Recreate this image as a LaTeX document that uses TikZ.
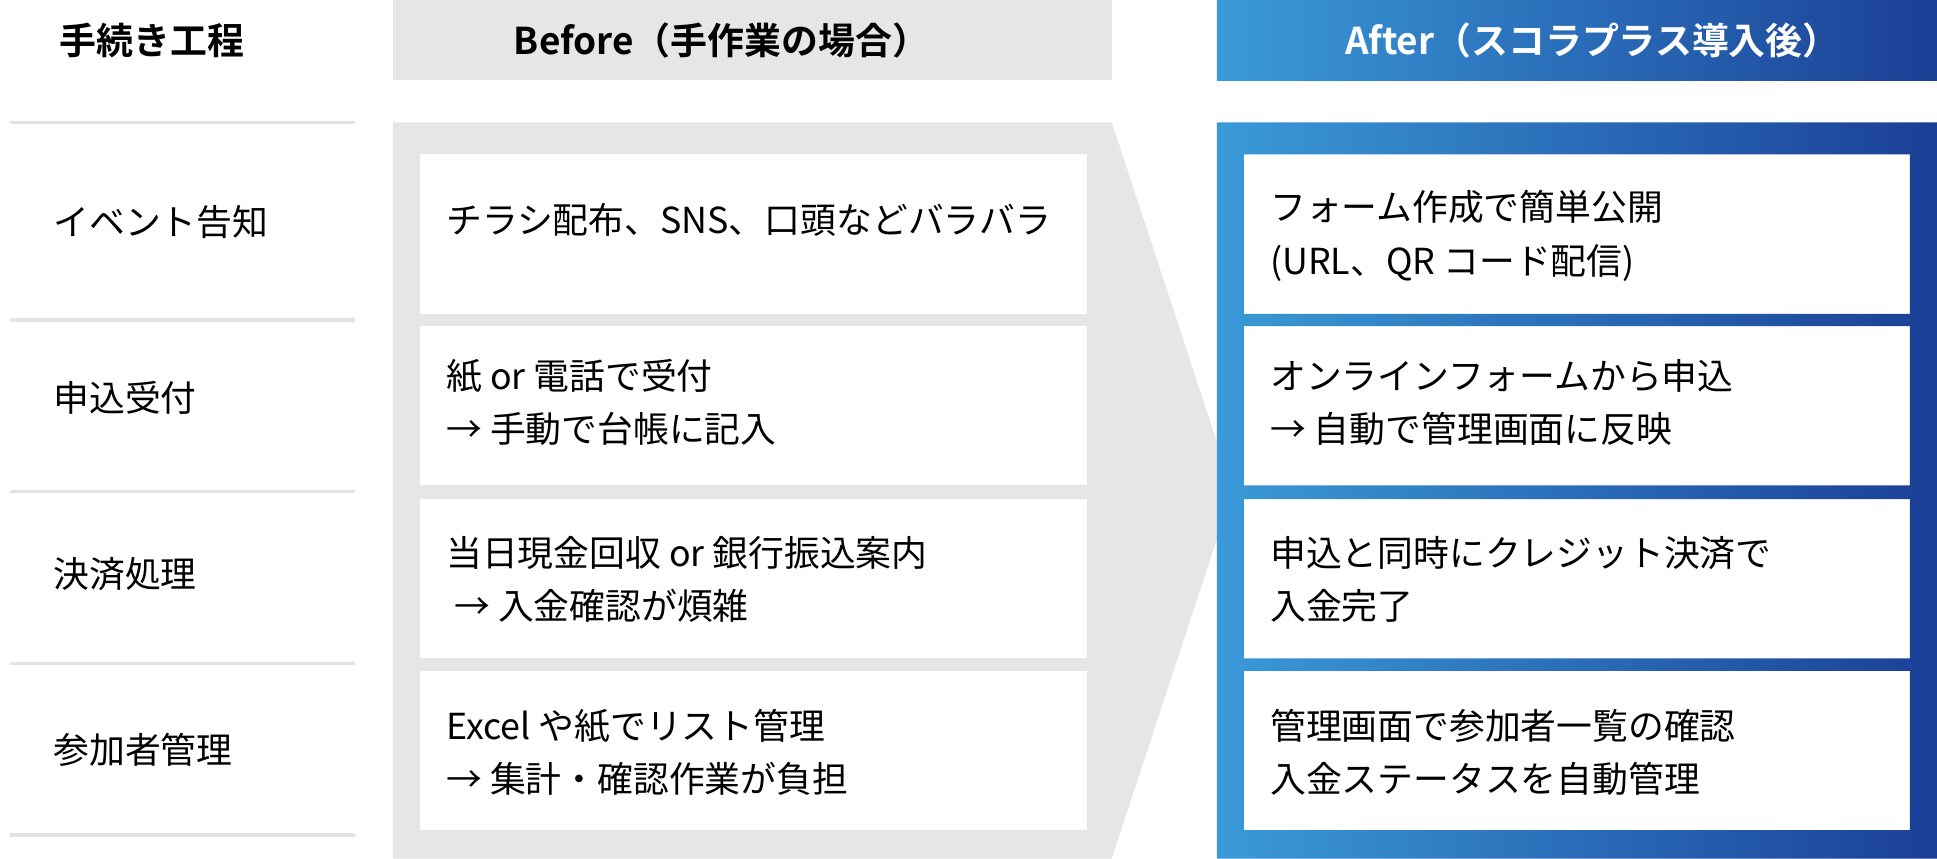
\documentclass[tikz,border=0pt]{standalone}
\usepackage{fontspec}
\setmainfont{Noto Sans CJK JP}[BoldFont={Noto Sans CJK JP Bold}]
\usepackage{tikz}
\definecolor{bggray}{HTML}{E6E6E6}
\definecolor{linegray}{HTML}{E3E3E3}
\definecolor{blueL}{HTML}{3A9AD9}
\definecolor{blueR}{HTML}{1A3F96}
\tikzset{
  stepname/.style={anchor=west, font=\fontsize{16.5}{20}\selectfont},
  cell/.style={anchor=west, align=left, font=\fontsize{16.5}{24.5}\selectfont},
  head/.style={font=\bfseries\fontsize{17}{20}\selectfont},
}
\begin{document}
\begin{tikzpicture}[x=0.02cm, y=-0.02cm]
			\useasboundingbox (0,0) rectangle (1568,695);
			% left column
			\node[head] (steptitle) at (123,33) {手続き工程};
			\foreach \y in {99,259,398,537,676} {
				\draw[linegray, line width=1.5pt] (8,\y) -- (287,\y);
			}
			\node[stepname] (s1) at (37,180) {イベント告知};
			\node[stepname] (s2) at (37,322) {申込受付};
			\node[stepname] (s3) at (37,465) {決済処理};
			\node[stepname] (s4) at (37,607) {参加者管理};
			% before
			\fill[bggray] (318,0) rectangle (900,65);
			\node[head] (beforetitle) at (584,33) {Before（手作業の場合）};
			\fill[bggray] (318,99) -- (900,99) -- (998,397) -- (900,695) -- (318,695) -- cycle;
			\foreach \a/\b in {125/254,264/393,404/533,543/672} {
				\fill[white] (340,\a) rectangle (880,\b);
				\fill[white] (1007,\a) rectangle (1546,\b);
			}
			\node[cell] (b1) at (355,178) {チラシ配布、SNS、口頭などバラバラ};
			\node[cell] (b2) at (355,326) {紙 or 電話で受付\\→ 手動で台帳に記入};
			\node[cell] (b3) at (355,469) {当日現金回収 or 銀行振込案内\\\ → 入金確認が煩雑};
			\node[cell] (b4) at (355,609) {Excel や紙でリスト管理\\→ 集計・確認作業が負担};
			% after
			\shade[left color=blueL, right color=blueR] (985,0) rectangle (1568,65);
			\node[head, text=white] (aftertitle) at (1289,33) {After（スコラプラス導入後）};
			\shade[left color=blueL, right color=blueR, even odd rule]
				(985,99) rectangle (1568,695)
				(1007,125) rectangle (1546,254) (1007,264) rectangle (1546,393)
				(1007,404) rectangle (1546,533) (1007,543) rectangle (1546,672);
			\node[cell] (a1) at (1022,191) {フォーム作成で簡単公開\\(URL、QR コード配信)};
			\node[cell] (a2) at (1022,326) {オンラインフォームから申込\\→ 自動で管理画面に反映};
			\node[cell] (a3) at (1022,469) {申込と同時にクレジット決済で\\入金完了};
			\node[cell] (a4) at (1022,609) {管理画面で参加者一覧の確認\\入金ステータスを自動管理};
		\end{tikzpicture}
\end{document}
